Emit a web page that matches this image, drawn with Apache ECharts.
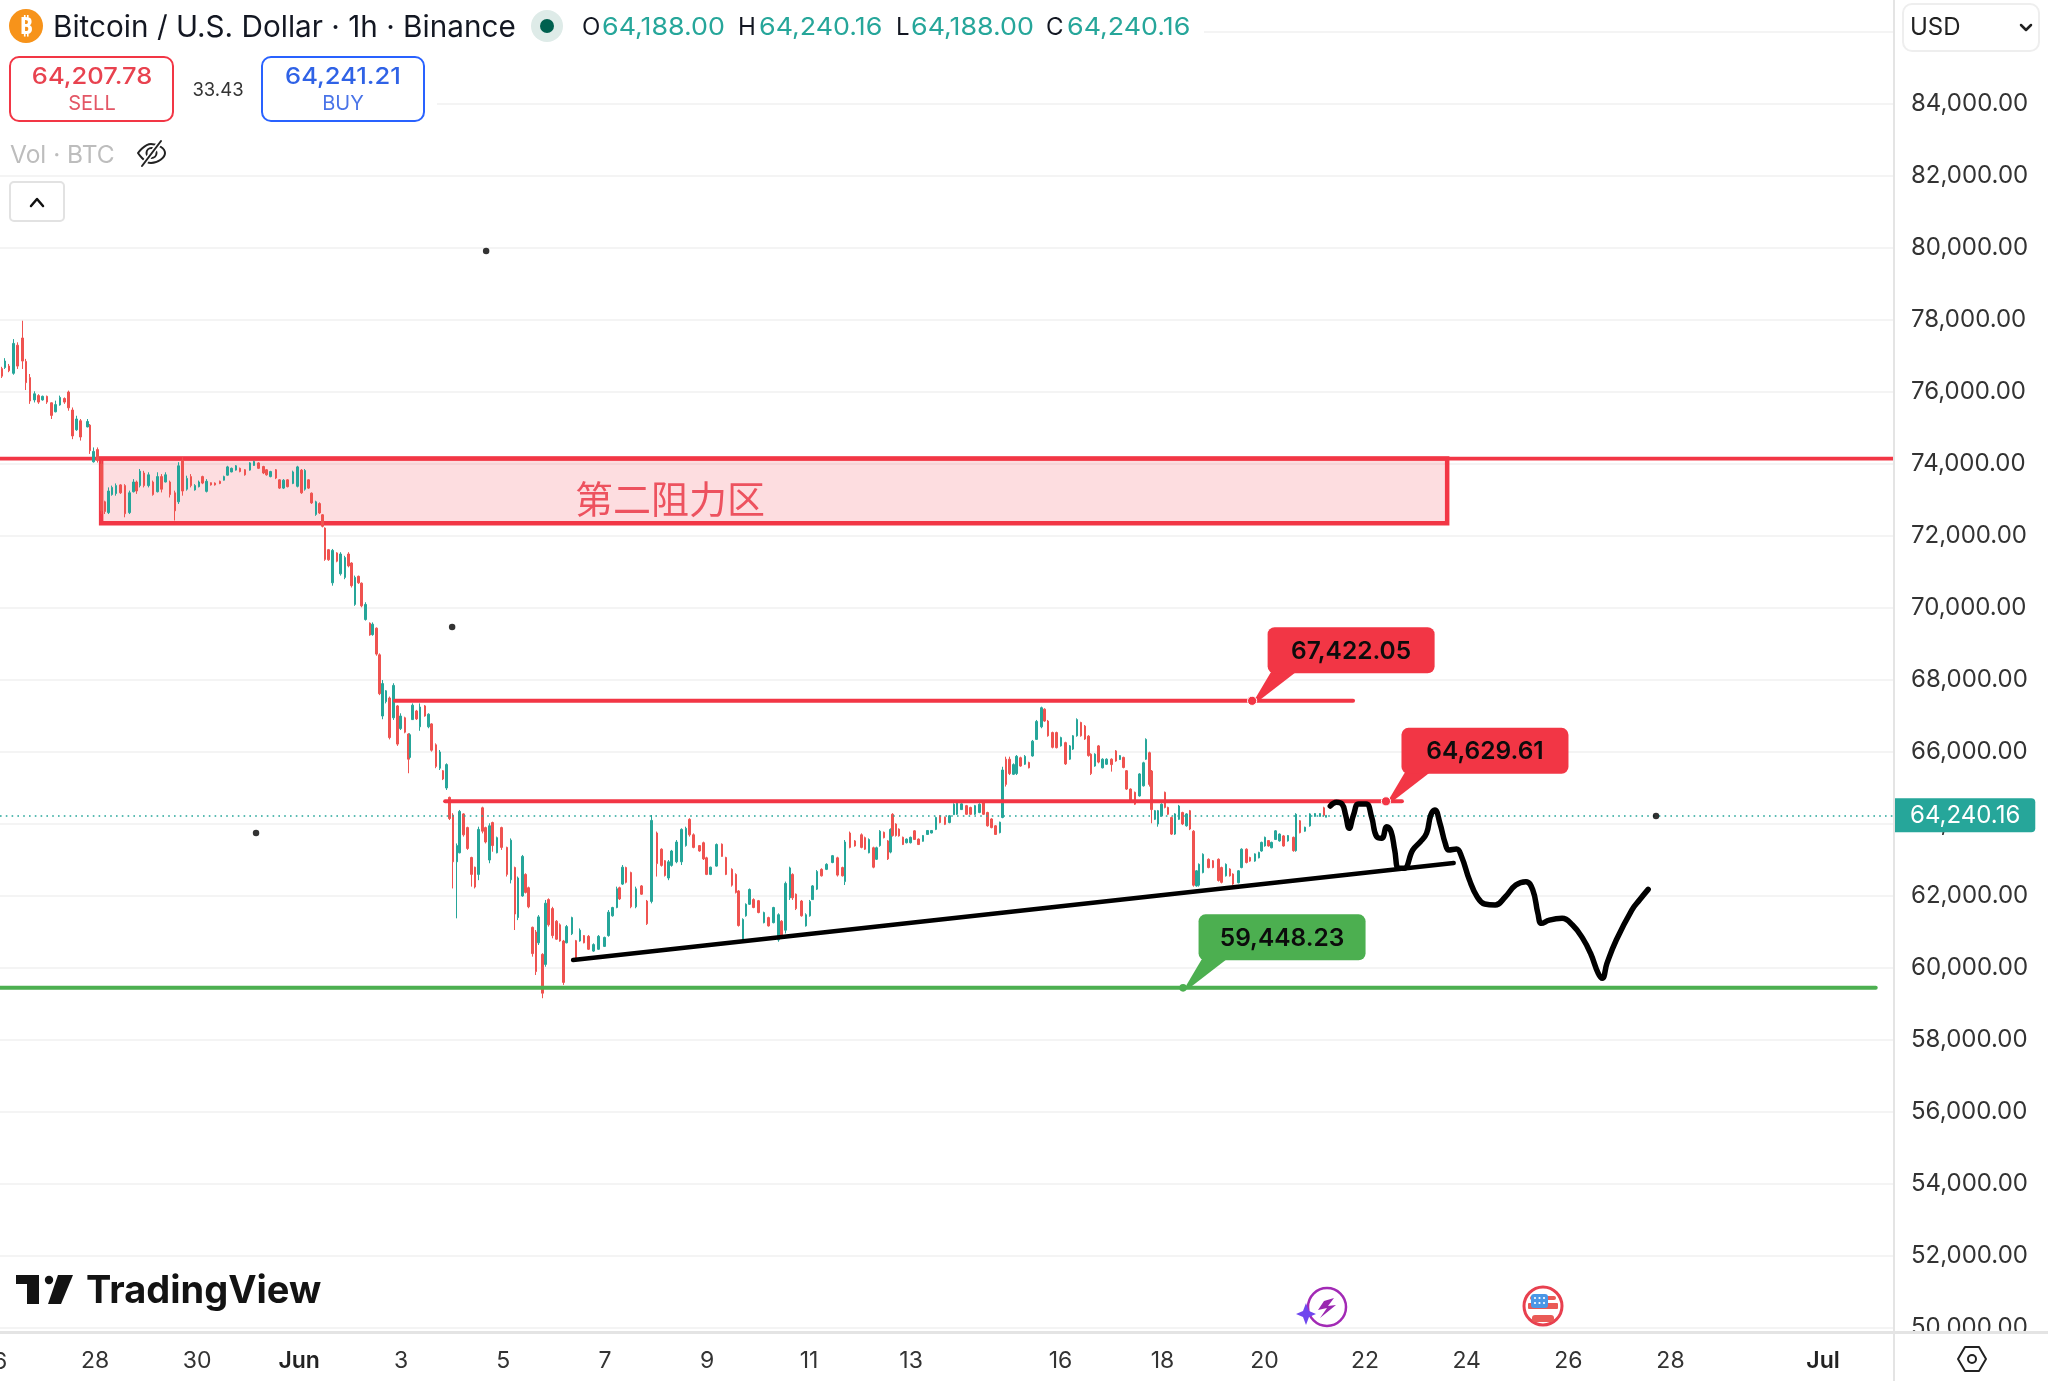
<!DOCTYPE html>
<html><head><meta charset="utf-8">
<style>html,body{margin:0;padding:0;background:#fff}#c{width:2048px;height:1381px}</style>
<script src="https://cdn.jsdelivr.net/npm/echarts@6/dist/echarts.min.js"></script>
</head><body><div id="c"></div>
<script>
// Hours are counted from 1 Jun 00:00. Each row: [hour, open, close, low, high]
const barsLateMay = [
[-139.9,76650,76440,76390,76700],[-138.4,76680,76860,76640,76940],[-136.6,76720,76590,76550,76780],[-134.5,76520,77350,76480,77470],[-132.5,77300,76720,76640,77380],[-130.1,77500,76860,76640,77980],[-128.6,76850,76260,76055,76920],[-126.7,76400,75750,75670,76500],[-124.6,75780,75950,75710,76020],[-122.6,75900,75720,75670,75940],[-120.7,75780,75880,75760,75900],[-118.7,75880,75720,75670,75900],[-116.6,75700,75350,75250,75710],[-114.6,75450,75650,75435,75760],[-112.6,75640,75850,75620,75900],[-110.5,75820,75720,75670,75850],[-108.5,76000,75560,75480,76040],[-106.6,75500,74780,74690,75570],[-104.7,74950,75250,74920,75340],[-102.8,75200,74750,74650,75250],[-99.7,75030,75180,75020,75250],[-98.4,75080,74370,74280,75110],[-96.9,74060,74350,74040,74460],[-95,74400,74100,74040,74460],[-93,74000,72700,72610,74090],
[-91.4,72950,72680,72610,72980],[-89.8,72650,73250,72610,73350],[-88.2,73150,73350,73120,73400],[-86.2,73180,73400,73120,73460],[-84,73420,73200,73170,73440],[-82,73400,72620,72520,73440],[-79.9,72650,73200,72610,73260],[-78,73230,73500,73210,73580],[-76.5,73500,73250,73170,73540],[-74.9,73400,73800,73350,73860],[-73,73750,73400,73350,73810],[-71,73400,73700,73350,73770],[-68.9,73500,73150,73120,73540],[-66.7,73230,73650,73210,73770],[-64.7,73650,73300,73210,73720],[-62.8,73500,73700,73490,73770],[-60.8,73500,73150,73070,73540],[-58.4,73200,72700,72430,73260],[-56.9,72950,73950,72890,74050],[-54.8,74100,73250,73120,74190],[-52.9,73300,73600,73260,73675],[-51,73650,73400,73350,73720],[-49,73280,73400,73260,73440],[-47.1,73370,73500,73350,73540],[-45.4,73650,73470,73440,73675],[-43.5,73240,73520,73210,73580],[-41.6,73480,73420,73400,73490],[-39.6,73470,73420,73400,73490],[-37.2,73520,73460,73440,73540],[-35.4,73550,73650,73540,73675],[-33.8,73690,73920,73675,73950],[-31.8,73780,73880,73770,73900],[-29.7,73830,73950,73815,73970],[-27.8,73880,73790,73770,73900],[-25.5,73840,73700,73675,73860],[-23.1,73830,74030,73815,74050],[-21.2,73960,74070,73950,74090],[-19.2,74030,73880,73860,74050],[-16.8,73930,73750,73720,73950],[-15.3,73840,73700,73675,73860],[-13.4,73650,73790,73630,73810],[-10.9,73840,73610,73580,73860],[-9.3,73560,73330,73305,73580],[-7.4,73330,73550,73305,73580],[-5.6,73560,73370,73350,73580],[-3,73460,73780,73440,73815],[-0.7,73380,73920,73350,73950]];
const barsFirstDrop = [
[1.2,73830,73200,73170,73860],[2.8,73300,73820,73260,73860],[4.3,73560,73330,73305,73580],[5.9,73190,72920,72890,73210],[7.9,72600,72950,72560,72980],[9.5,72900,72640,72610,72935],[11.1,72590,72270,72240,72610],[12.2,72220,71350,71310,72240],[13.7,71620,71340,71310,71640],[15.8,70700,71600,70620,71640],[17.7,71530,71300,71270,71550],[19.5,70950,71500,70900,71550],[21.6,70850,71400,70800,71450],[23.2,71500,71170,71130,71550],[24.7,71250,70620,70570,71270],[26.3,70100,70850,70060,70900],[27.9,70880,70700,70670,70900],[29.4,70690,70060,70020,70710],[31.3,69680,70100,69650,70160],[33.4,69580,69250,69230,69600],[34.6,69260,69550,69230,69600],[36.5,69440,68720,68675,69460],
[37.7,68700,67620,67580,68740],[39.3,67000,67900,66910,68000],[40.9,67400,67700,67350,67720],[42.5,67500,66400,66350,67540],[44.3,66950,67850,66890,67910],[46.2,67280,66220,66170,67305],[47.8,66650,67000,66610,67075],[49.8,66950,66550,66520,66980],[51.4,66500,65800,65410,66520],[52.2,65850,66480,65825,66520],[53.4,66900,67300,66890,67350],[55.3,67140,66920,66890,67170],[56.9,66700,67250,66590,67350],[59.2,67280,67000,66980,67305],[60.8,66700,67050,66660,67075],[62.4,66780,66050,66010,66800],[64.4,66200,65600,65550,66240],[66.3,65550,66000,65500,66055],[67.6,65480,65250,65220,65500],[69.4,65000,65650,64945,65685],[70.7,64740,64150,64110,64760],[72.3,64250,62950,62210,64300],[74.2,62950,63400,61380,63460],[75.4,63200,64350,63185,64390],[77.3,64280,63700,63650,64300],[79.2,63900,63320,63280,63925],[81.2,63070,62600,62260,63090],[82.8,62800,62250,62210,62815],[84.3,62600,63850,62440,63925],[86.4,64450,63800,63740,64480],[87.6,63900,63500,63460,63925],[89.5,63000,63950,62910,64020],[91.1,64040,63400,63230,64065],[93,63200,63620,63185,63650],[95.3,63900,63350,63280,63925],[97.7,63350,62600,62540,63370],[99.6,62450,63550,62350,63600],[101.6,62790,61500,61055,62815],[102.9,61400,62500,61330,62540],[105.1,62000,63100,61980,63140],[106.6,62600,62100,62070,62630],[107.9,62230,61700,61660,62260],[109.9,61130,60400,60315,61150],[111.5,61000,59900,59805,61055],[112.6,60700,61420,60640,61470],[114.6,60380,59300,59160,60410]];
const barsFirstRebound = [
[115.9,60100,61800,60035,61890],[117.3,61900,61200,61150,61935],[119.3,61650,60900,60825,61700],[121.2,61300,60800,60780,61330],[122.8,61200,60750,60730,61240],[124.4,60750,59600,59530,60780],[125.9,60700,61150,60685,61195],[128.3,60950,61400,60915,61425],[130.3,60760,60250,60220,60780],[132.2,60750,61050,60730,61100],[134.1,60900,60700,60685,60915],[136.1,60880,60520,60500,60915],[138.5,60470,60650,60450,60685],[140.8,60520,60880,60500,60915],[143.7,60600,60850,60590,60870],[145.5,60900,61550,60870,61610],[147.4,61450,61680,61425,61700],[149.5,61680,62200,61660,62260],[150.7,62230,61920,61890,62260],[152.1,62330,62800,62305,62860],[153.9,62790,62380,62350,62815],[156.1,62650,61700,61660,62675],[158.6,61700,62200,61660,62260],[161.2,62280,62050,62030,62305],[163.6,61860,61230,61195,61890],[165.9,61850,64100,61795,64250],[168.3,63750,62900,62540,63790],[170.6,63300,62850,62815,63325],[172.2,62980,62570,62540,63000],[173.8,62500,62950,62440,63000],[175.3,62850,63250,62815,63280],[177.7,62950,63500,62910,63555],[180,62950,63850,62860,63880],[182.1,63400,63880,63370,63925],[183.7,64130,63700,63650,64160],[185.5,63700,63350,63325,63740],[188.4,63400,63250,63230,63415],[190.3,63480,63030,63000,63510],[191.8,63060,62600,62580,63090],[193.7,62600,62800,62580,62815],[196.5,62830,63430,62815,63460],[198.9,63440,63100,63090,63460],[200.9,63070,62600,62580,63090],[203.6,62740,62300,62260,62770],[205.6,62600,62100,62070,62630],[206.7,62140,61180,61150,62165],[208.8,60800,61350,60780,61380],[210.3,61450,61770,61425,61795],[211.9,61770,62180,61750,62210],[213.8,61900,61680,61660,61935],[216.1,61870,61540,61520,61890],[218.8,61260,61540,61240,61565],[220.9,61400,61170,61150,61425],[223.2,61260,61680,61240,61700],[225.6,60780,61480,60730,61520],[227.1,61300,60900,60870,61330],[229,61050,62350,60960,62400],[231.1,61950,62780,61890,62815],[232.3,62600,61950,61890,62630],[233.9,62050,61650,61610,62070],[236.5,61860,61450,61425,61890],[238.6,61170,61480,61150,61520],[240.5,61450,61850,61425,61890],[241.7,61900,62280,61890,62305],[243.6,62190,62680,62165,62720],[245.9,62740,62560,62540,62770],[248.3,62740,62880,62720,62910],[251.1,62930,63120,62910,63140],[253.3,63060,62580,62540,63090],[255.8,62790,62560,62540,62815],[256.9,62400,63500,62305,63555],[259.3,63750,63350,63325,63790],[261.6,63530,63390,63370,63555]];
const barsMidJune = [
[264.7,63700,63350,63325,63740],[266.3,63620,63300,63280,63650],[268.3,63200,63570,63185,63600],[270.2,63340,62800,62770,63370],[271.7,63020,63340,63000,63370],[273.3,63400,63800,63370,63830],[275.2,63770,63620,63600,63790],[277.1,63530,63030,63000,63555],[278.3,63220,63850,63185,63880],[279.3,64270,63680,63650,64300],[280.8,64000,63680,63650,64020],[282.4,63860,63670,63650,63880],[284.3,63630,63430,63415,63650],[285.9,63480,63580,63460,63600],[287.7,63480,63630,63460,63650],[289.5,63810,63570,63555,63830],[291.4,63580,63430,63415,63600],[293.7,63520,63680,63510,63695],[295.8,63710,63820,63695,63830],[297.6,63750,63820,63740,63830],[299.7,63850,64180,63830,64205],[301.6,64230,64040,64020,64250],[303.9,64190,63990,63970,64205],[306,64040,64230,64020,64250],[308.1,64260,64550,64250,64575],[309.7,64270,64640,64250,64665],[311.8,64400,64560,64390,64575],[314.1,64510,64270,64250,64530],[316,64460,64270,64250,64480],[318,64270,64510,64250,64530],[320.1,64320,64550,64300,64575],[322,64600,64270,64250,64620],[324,64320,63950,63925,64340],[325.9,64140,63900,63880,64160],[327.8,63950,63710,63695,63970],[329.8,63760,64050,63740,64065],[331,64180,65500,64160,65590],[332.6,65800,65100,65040,65870],[334.2,65800,65400,65360,65870],[336.1,65380,65650,65360,65685],[337.6,65400,65880,65360,65915],[339.5,65840,65610,65590,65870],[341.6,65660,65880,65640,65915],[343.5,65710,65560,65545,65730],[345.2,65890,66300,65870,66335],[347.1,66350,66850,66335,66890],[349.4,66700,67230,66660,67260],[350.7,67190,66860,66840,67215],[352.5,66860,66450,66425,66890],[354.6,66540,66130,66100,66565],[356.5,66540,66120,66100,66565],[358.5,66170,66400,66150,66425],[360.7,66260,65670,65640,66285],[362.7,65800,66170,65780,66195],[364.3,66080,66450,66055,66470],[366.2,66450,66900,66425,66935],[367.9,66820,66450,66425,66840],[369.8,66720,66360,66335,66750],[371.4,66440,65900,65870,66470],[372.6,65940,65400,65360,65965],[374.5,65610,65940,65590,65965],[376.2,66170,65720,65685,66195],[378,65560,65800,65545,65825],[380,65660,65800,65640,65825],[382.4,65800,65650,65455,65825],[384.4,66030,65750,65730,66055],[386.3,65790,65900,65780,65915],[387.9,65850,65570,65545,65870],[389.4,65480,64970,64945,65500],[391.3,64970,64640,64620,64990],[393.3,64880,64550,64530,64900]];
const barsLateJune = [
[395.4,64780,65390,64760,65410],[397.3,65060,65700,65040,65730],[398.5,65800,66350,65780,66380],[400.1,65980,65100,65040,66010],[401.2,65470,64400,64020,65500],[402.8,64130,64370,64110,64390],[404.3,64000,64370,63925,64390],[405.9,64220,64550,64205,64575],[407.5,64880,64460,64435,64900],[409,64460,64270,64250,64480],[410.6,64180,63720,63695,64205],[412.2,63720,64280,63695,64300],[414.2,64130,64500,64110,64530],[415.8,64320,64000,63970,64340],[417.7,63950,64280,63925,64300],[419.2,64370,63860,63830,64390],[420.8,63800,62300,62260,63830],[422.4,62280,62700,62260,62720],[423.6,62300,62880,62260,62905],[425.5,62650,63160,62630,63185],[427.9,63020,62790,62770,63045],[430.2,62980,62790,62770,63000],[432.6,63020,62430,62400,63045],[434.1,62790,62380,62350,62815],[436.2,62560,62880,62540,62905],[438,62750,62560,62540,62770],[439.6,62610,62330,62305,62630],[442,62370,62700,62350,62720],[443.5,62790,63300,62770,63325],[445.9,63300,62930,62905,63325],[447.5,63070,62970,62950,63090],[449.8,62970,63170,62950,63185],[451.7,63060,63210,63045,63230],[453,63250,63490,63230,63510],[454.5,63390,63630,63370,63650],[456.1,63540,63390,63370,63555],[457.7,63340,63490,63325,63510],[459.5,63570,63810,63555,63830],[461.3,63530,63720,63510,63740],[463.2,63670,63390,63370,63695],[465.5,63530,63680,63510,63695],[467.9,63630,63260,63230,63650],[469.1,63260,64270,63230,64300],[471,64090,63760,63740,64110],[473.4,63800,63910,63785,63925],[475.7,63950,64280,63925,64300],[478,64210,64290,64205,64300],[480.4,64210,64290,64205,64300],[482.3,64450,64240,64205,64480],[483.2,64188,64240.16,64188,64240.16]];

const tickHours  = [-96,-48,0,48,96,144,192,240,288,358.3,406.3,454.3,501.6,549.5,597.4,645.4,717.2];
const tickLabels = ['28','30','Jun','3','5','7','9','11','13','16','18','20','22','24','26','28','Jul'];
const monthTicks = ['Jun','Jul'];

const lastPrice = 64240.16;
const hourMin = -140.8, hourMax = 750.6;
const priceMin = 50000, priceMax = 86889;
const zoneHours = [-93.2, 540.3];
const zonePrices = [72353, 74150];
const zoneName = '第二阻力区';
const zoneNameAt = [174.5, 73030];
const resistanceA = {hours:[45.1,496], price:67422.05};
const resistanceB = {hours:[68.7,519], price:64629.61};
const supportLine = {hours:[hourMin,742], price:59448.23};
const calloutHours  = [448.5, 511.5, 416];
const calloutPrices = [67422.05, 64629.61, 59448.23];
const calloutTexts  = ['67,422.05','64,629.61','59,448.23'];
const trendHours  = [128.9, 543.4];
const trendPrices = [60222, 62917];
const sketchHours  = [485.3,488.2,490.8,492.5,494.2,496.2,498.6,502.2,504.7,507.1,509.5,511.9,513.9,515.6,517.5,520,524.1,527.7,530.6,532.6,534.5,536.9,539.4,541.1,544.7,547.1,550.8,554.4,558,562.9,567.7,572.6,577.4,580.6,583,584.7,588.4,594.4,599.3,604.1,607.8,611.4,613.3,615.5,619.9,627.2,630.8,634.9];
const sketchPrices = [64499,64601,64555,64249,63879,64249,64555,64555,64203,63647,63601,63925,63786,63277,62768,62768,63277,63509,63740,64249,64388,64018,63462,63277,63305,63092,62444,61981,61777,61749,61981,62305,62397,62166,61518,61240,61332,61379,61193,60823,60406,59851,59712,60129,60777,61610,61888,62184];
const dotHours  = [88, 72, -20.3, 638.6];
const dotPrices = [79917, 69472, 63750, 64222];

const UI = 'Inter, Roboto, sans-serif';
const RED='#f23645', GREEN='#4caf50', TEAL='#26a69a', UPC='#26a69a', DOWNC='#ef5350', SEP='#e4e4e4';
const bars = [].concat(barsLateMay,barsFirstDrop,barsFirstRebound,barsMidJune,barsLateJune);

function txt(x,y,text,size,fill,o){o=o||{};const e={type:'text',z:o.z||110,silent:true,style:{x,y,text,fill,font:(o.weight||'400')+' '+size+'px '+(o.family||UI),textAlign:o.align||'left',textVerticalAlign:'middle'}};
  if(o.sx){e.scaleX=o.sx;e.originX=x;e.originY=y;} return e;}
function rr(x,y,w,h,r,fill,stroke,lw,z){return {type:'rect',z:z||105,silent:true,shape:{x,y,width:w,height:h,r},style:{fill:fill||'#fff',stroke:stroke||null,lineWidth:lw||0}};}
function circ(cx,cy,r,fill,stroke,lw,z){return {type:'circle',z:z||106,silent:true,shape:{cx,cy,r},style:{fill:fill||'none',stroke:stroke||null,lineWidth:lw||0}};}
function poly(points,fill,z){return {type:'polygon',z:z||107,silent:true,shape:{points},style:{fill}};}
function pl(points,stroke,lw,smooth,z){return {type:'polyline',z:z||107,silent:true,shape:{points,smooth:smooth||0},style:{stroke,lineWidth:lw,fill:null,lineCap:'round',lineJoin:'round'}};}

const decor = [
  rr(0,0,1204,62,0,'#fff',null,0,100), rr(0,62,437,58,0,'#fff',null,0,100),
  rr(1895,0,153,60,0,'#fff',null,0,100), rr(1895,1333,153,48,0,'#fff',null,0,100),
  {type:'rect',z:101,silent:true,shape:{x:1893,y:0,width:2,height:1381},style:{fill:SEP}},
  {type:'rect',z:101,silent:true,shape:{x:0,y:1331,width:2048,height:3},style:{fill:SEP}},
  circ(26,26,17,'#f7931a'), txt(26,27,'₿',23,'#fff',{align:'center',weight:'700',family:'"Noto Sans","DejaVu Sans"',z:108}),
  txt(53,28,'Bitcoin / U.S. Dollar · 1h · Binance',29.7,'#131722'),
  circ(547,26,16,'#deebe8'), circ(547,26,7,'#00604f',null,0,107),
  txt(582,28,'O',24,'#131722'), txt(602,28,'64,188.00',24,TEAL,{sx:1.118}),
  txt(738,28,'H',24,'#131722'), txt(759,28,'64,240.16',24,TEAL,{sx:1.118}),
  txt(896,28,'L',24,'#131722'), txt(911,28,'64,188.00',24,TEAL,{sx:1.118}),
  txt(1046,28,'C',24,'#131722'), txt(1067,28,'64,240.16',24,TEAL,{sx:1.118}),
  rr(10,57,163,64,9,'#fff',RED,2), txt(92,77,'64,207.78',23,'#e8424f',{align:'center',weight:'500',sx:1.11}), txt(92,104,'SELL',20,'#e35766',{align:'center'}),
  txt(218,90,'33.43',18.5,'#333',{align:'center'}),
  rr(262,57,162,64,9,'#fff','#2962ff',2), txt(343,77,'64,241.21',23,'#2f62e6',{align:'center',weight:'500',sx:1.11}), txt(343,104,'BUY',20,'#4a74e8',{align:'center'}),
  txt(10,156,'Vol · BTC',24.5,'#bdbdbd'),
  pl([[138,153],[151,144],[165,153],[151,163],[138,153]],'#222',2,0.5), circ(151.5,153,5,'none','#222',2), pl([[142,166],[161,141]],'#fff',5,0,108), pl([[142,166],[161,141]],'#222',2,0,109),
  rr(10,182,54,39,4,'#fff','#e2e2e2',2), pl([[31,206],[37,199],[43,206]],'#111',2.5),
  rr(1903,4,136,47,9,'#fff','#eeeeee',2), txt(1910,28,'USD',24,'#222'), pl([[2021,25],[2026,30],[2031,25]],'#222',2.5),
  txt(-7,1362,'26',23,'#333',{align:'center'}),
  poly([[16,1275],[39,1275],[39,1304],[27,1304],[27,1284],[16,1284]],'#131313'),
  circ(49,1280,4.2,'#131313'),
  poly([[58,1275],[73,1275],[61,1304],[48,1304]],'#131313'),
  txt(86,1292,'TradingView',38,'#131313',{weight:'700'}),
  circ(1327,1307,19,'none','#a22ab5',2.5), rr(1296,1305,19,20,0,'#fff'),
  poly([[1306,1303],[1309,1311],[1316,1314],[1309,1317],[1306,1325],[1303,1317],[1296,1314],[1303,1311]],'#6f47ee',108),
  poly([[1334,1298],[1324,1301],[1318,1310],[1327,1308],[1320,1318],[1336,1305],[1328,1306]],'#9a27b0',108),
  circ(1543,1306,19,'#fff','#e8404f',3),
  rr(1530,1296,26,4,2,'#ea5a56',null,0,107), rr(1528,1303,30,6,1,'#ea5a56',null,0,107), rr(1532,1315,22,7,3,'#ea5a56',null,0,107),
  rr(1531,1294,17,14,3,'#4a97e6',null,0,108),
  circ(1535,1298,1.1,'#fff',null,0,109), circ(1539.5,1298,1.1,'#fff',null,0,109), circ(1544,1298,1.1,'#fff',null,0,109),
  circ(1535,1303,1.1,'#fff',null,0,109), circ(1539.5,1303,1.1,'#fff',null,0,109), circ(1544,1303,1.1,'#fff',null,0,109),
  poly([[1958,1359],[1965,1347],[1979,1347],[1986,1359],[1979,1371],[1965,1371]],'#fff',110),
  pl([[1958,1359],[1965,1347],[1979,1347],[1986,1359],[1979,1371],[1965,1371],[1958,1359]],'#222',2,0,111),
  circ(1972,1359,4,'none','#222',2,111)
];

function hLine(seg,color,width,z){return {type:'line',silent:true,z:z||4,showSymbol:false,animation:false,
  data:seg.hours.map(h=>[h,seg.price]),lineStyle:{color,width,cap:'round'}};}

const chart = echarts.init(document.getElementById('c'),null,{renderer:'canvas'});
chart.setOption({
  animation:false,
  backgroundColor:'#fff',
  grid:{left:0,right:154,top:0,bottom:53},
  xAxis:{type:'value',min:hourMin,max:hourMax,splitLine:{show:false},axisLine:{show:false},axisTick:{show:false},
    axisLabel:{customValues:tickHours,margin:22,fontFamily:UI,fontSize:23,color:'#333',hideOverlap:false,
      formatter:v=>{const s=tickLabels[tickHours.indexOf(v)];return monthTicks.includes(s)?'{m|'+s+'}':s;},
      rich:{m:{fontFamily:UI,fontSize:23,fontWeight:600,color:'#222'}}}},
  yAxis:{type:'value',position:'right',min:priceMin,max:priceMax,interval:2000,axisLine:{show:false},axisTick:{show:false},
    splitLine:{show:true,showMaxLine:false,lineStyle:{color:'#f4f4f4',width:2}},
    axisLabel:{margin:17,fontFamily:UI,fontSize:24,color:'#333',showMaxLabel:false,formatter:v=>v.toLocaleString('en-US',{minimumFractionDigits:2,maximumFractionDigits:2})}},
  graphic:{elements:decor},
  series:[
    {type:'candlestick',z:3,silent:true,barWidth:2,data:bars,
     itemStyle:{color:UPC,color0:DOWNC,borderColor:UPC,borderColor0:DOWNC,borderWidth:1},
     markLine:{silent:true,symbol:'none',animation:false,precision:2,
       lineStyle:{color:TEAL,width:1.6,type:[1.6,4.2]},
       label:{show:true,position:'end',distance:1,formatter:()=>lastPrice.toLocaleString('en-US'),color:'#fff',fontFamily:UI,fontSize:24,backgroundColor:TEAL,padding:[5,15,5,15],borderRadius:[0,4,4,0]},
       data:[{yAxis:lastPrice}]}},
    {type:'line',silent:true,z:2,showSymbol:false,data:[[hourMin,zonePrices[1]],[hourMax,zonePrices[1]]],lineStyle:{color:RED,width:3.6}},
    {type:'line',silent:true,z:4,data:[],
     markArea:{silent:true,animation:false,itemStyle:{color:'rgba(242,54,69,0.17)',borderColor:RED,borderWidth:4.5},
       label:{show:false},
       data:[[{coord:[zoneHours[0],zonePrices[1]]},{coord:[zoneHours[1],zonePrices[0]]}]]}},
    {type:'scatter',silent:true,z:5,symbolSize:0,data:[zoneNameAt],
     label:{show:true,position:'inside',formatter:zoneName,fontFamily:'"Noto Sans CJK SC"',fontSize:38,color:'#e8303f'}},
    hLine(resistanceA,RED,4), hLine(resistanceB,RED,4), hLine(supportLine,GREEN,4),
    {type:'line',silent:true,z:6,showSymbol:false,data:trendHours.map((h,i)=>[h,trendPrices[i]]),lineStyle:{color:'#000',width:4.4,cap:'round'}},
    {type:'line',silent:true,z:7,showSymbol:false,smooth:0.45,data:sketchHours.map((h,i)=>[h,sketchPrices[i]]),lineStyle:{color:'#000',width:5.5,cap:'round',join:'round'}},
    {type:'scatter',silent:true,z:7,symbolSize:6.5,itemStyle:{color:'#000'},data:dotHours.map((h,i)=>[h,dotPrices[i]])},
    {type:'custom',silent:true,z:8,clip:false,
     data:calloutHours.map((h,i)=>[h,calloutPrices[i]]),
     encode:{x:0,y:1},
     renderItem:(params,api)=>{
       const p=api.coord([api.value(0),api.value(1)]);
       const i=params.dataIndex, color=i===2?GREEN:RED;
       const L=p[0]+15.5,B=p[1]-27.5,W=167,H=46;
       return {type:'group',children:[
         {type:'polygon',shape:{points:[[p[0]+3,p[1]-2],[L+5,B-4],[L+32,B-4],[p[0]+8,p[1]-1]]},style:{fill:color}},
         {type:'rect',shape:{x:L,y:B-H,width:W,height:H,r:7},style:{fill:color}},
         {type:'circle',shape:{cx:p[0],cy:p[1],r:i===2?3.8:4.6},style:{fill:color,stroke:'#fff',lineWidth:i===2?0:1}},
         {type:'text',style:{x:L+W/2,y:B-H/2+1,text:calloutTexts[i],fill:'#0c0c0c',font:'600 24.5px '+UI,textAlign:'center',textVerticalAlign:'middle'}}
       ]};
     }}
  ]
});
</script></body></html>
